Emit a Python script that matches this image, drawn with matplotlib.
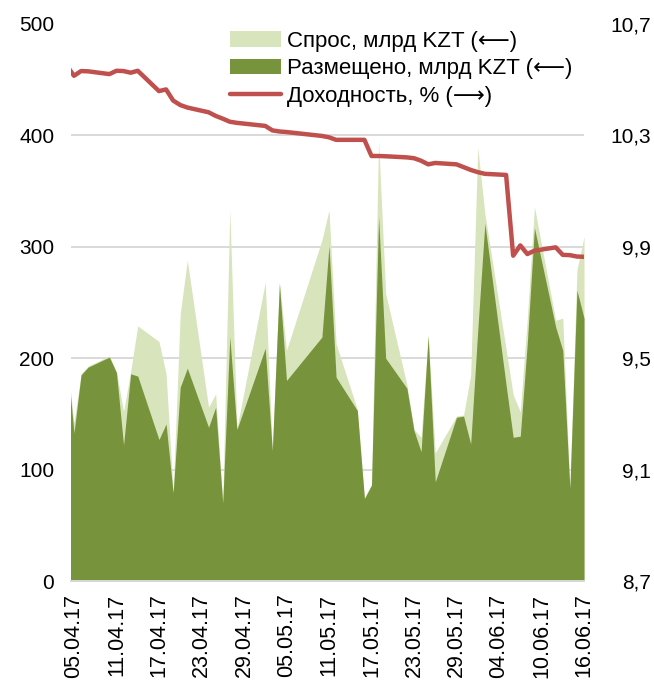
import numpy as np
import pandas as pd
from matplotlib import pyplot as plt
import matplotlib.dates as mdates
from matplotlib.patches import Patch
from matplotlib.lines import Line2D

plt.rcParams['font.family'] = ['Liberation Sans', 'DejaVu Sans']

# auction days
dates = ['04.04.17', '05.04.17', '06.04.17', '07.04.17', '10.04.17', '11.04.17', '12.04.17',
         '13.04.17', '14.04.17', '17.04.17', '18.04.17', '19.04.17', '20.04.17', '21.04.17',
         '24.04.17', '25.04.17', '26.04.17', '27.04.17', '28.04.17', '02.05.17', '03.05.17',
         '04.05.17', '05.05.17', '10.05.17', '11.05.17', '12.05.17', '15.05.17', '16.05.17',
         '17.05.17', '18.05.17', '19.05.17', '22.05.17', '23.05.17', '24.05.17', '25.05.17',
         '26.05.17', '29.05.17', '30.05.17', '31.05.17', '01.06.17', '02.06.17', '05.06.17',
         '06.06.17', '07.06.17', '08.06.17', '09.06.17', '12.06.17', '13.06.17', '14.06.17',
         '15.06.17', '16.06.17']

# demand, bn KZT
demand = [200, 142, 186, 193, 202, 188, 152,
          188, 229, 215, 186, 80, 240, 288,
          156, 168, 71, 333, 137, 268, 118,
          268, 207, 306, 333, 213, 154, 75,
          87, 395, 258, 176, 136, 129, 221,
          115, 148, 149, 185, 389, 330, 208,
          167, 152, 236, 336, 234, 236, 84,
          279, 309]

# placed, bn KZT
placed = [200, 133, 185, 192, 201, 187, 122,
          186, 184, 127, 141, 79, 174, 191,
          138, 156, 70, 219, 136, 209, 117,
          267, 180, 219, 301, 183, 153, 74,
          86, 327, 200, 173, 135, 116, 220,
          89, 147, 148, 123, 225, 321, 176,
          129, 130, 214, 317, 228, 207, 83,
          261, 236]

# yield, %
yield_pct = [10.55, 10.514, 10.531, 10.530, 10.520, 10.532, 10.531,
             10.525, 10.532, 10.459, 10.465, 10.425, 10.409, 10.400,
             10.383, 10.370, 10.360, 10.349, 10.345, 10.334, 10.318,
             10.314, 10.312, 10.298, 10.293, 10.284, 10.284, 10.284,
             10.226, 10.226, 10.225, 10.221, 10.218, 10.209, 10.196,
             10.201, 10.196, 10.186, 10.176, 10.168, 10.162, 10.158,
             9.868, 9.905, 9.874, 9.886, 9.898, 9.871, 9.870,
             9.865, 9.864]

x = pd.to_datetime(dates, format='%d.%m.%y')

light = '#d8e4bc'
dark = '#77933c'
red = '#c0504d'

fig = plt.figure(figsize=(6.54, 6.85), dpi=100)
ax = fig.add_axes([0.1086, 0.1518, 0.7844, 0.8132])

ax.fill_between(x, 0, demand, color=light, lw=0)
ax.fill_between(x, 0, placed, color=dark, lw=0)
ax.set_ylim(0, 500)
ax.set_yticks(range(0, 501, 100))
ax.set_axisbelow(True)
for v in range(100, 500, 100):
    ax.axhline(v, color='#d9d9d9', lw=1.4, zorder=0)

ax.set_xlim(pd.Timestamp('2017-04-05') - pd.Timedelta(hours=10), pd.Timestamp('2017-06-16'))
ticks = pd.date_range('2017-04-05', '2017-06-16', freq='6D')
ax.set_xticks(ticks)
ax.xaxis.set_major_formatter(mdates.DateFormatter('%d.%m.%y'))
ax.tick_params(axis='x', rotation=90, length=0, pad=9, labelsize=15.5)
ax.tick_params(axis='y', length=0, pad=12, labelsize=15)

for s in ['top', 'left', 'right']:
    ax.spines[s].set_visible(False)
ax.spines['bottom'].set_color('#d9d9d9')
ax.spines['bottom'].set_linewidth(1.4)

ax2 = ax.twinx()
ax2.plot(x, yield_pct, color=red, lw=3.2, solid_joinstyle='round', solid_capstyle='round')
ax2.set_ylim(8.7, 10.7)
yt = np.arange(8.7, 10.71, 0.4)
ax2.set_yticks(yt)
ax2.set_yticklabels([f'{v:.1f}'.replace('.', ',') for v in yt])
ax2.tick_params(axis='y', length=0, pad=48, labelsize=15)
for lab in ax2.get_yticklabels():
    lab.set_ha('right')
for s in ['top', 'left', 'right', 'bottom']:
    ax2.spines[s].set_visible(False)

handles = [Patch(color=light, lw=0), Patch(color=dark, lw=0),
           Line2D([], [], color=red, lw=3.2, solid_capstyle='round')]
labels = ['Спрос, млрд KZT (⟵)', 'Размещено, млрд KZT (⟵)', 'Доходность, % (⟶)']
fig.legend(handles, labels, loc='upper left', bbox_to_anchor=(0.352, 0.955),
           frameon=False, fontsize=16, handlelength=2.3, handleheight=0.7,
           handletextpad=0.25, labelspacing=0.3, borderpad=0, borderaxespad=0)

fig.savefig('out.png', dpi=100)
